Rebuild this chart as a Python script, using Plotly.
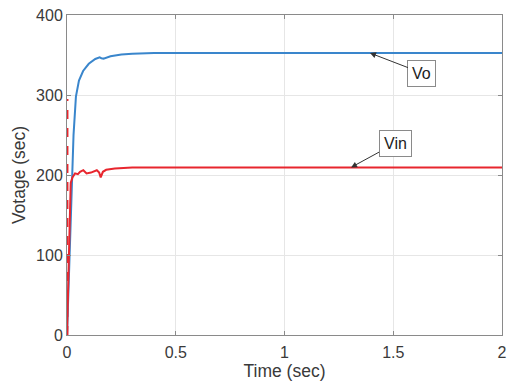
import plotly.graph_objects as go

# Output voltage Vo (blue)
vo_t = [0, 0.005, 0.012, 0.02, 0.03, 0.041, 0.055, 0.074, 0.1, 0.13, 0.15, 0.158, 0.168, 0.2, 0.25, 0.3, 0.4, 2.0]
vo_v = [0, 40, 120, 185, 250, 298, 318, 330, 339, 345, 347, 346, 345.5, 348.5, 350.5, 351.5, 352.5, 352.5]

# Input voltage Vin (red)
vin_t = [0, 0.004, 0.01, 0.017, 0.025, 0.037, 0.05, 0.06, 0.075, 0.09, 0.11, 0.137, 0.148, 0.155, 0.165, 0.18, 0.22, 0.3, 2.0]
vin_v = [0, 40, 130, 190, 197, 202, 201, 204, 206, 202, 203, 206, 203, 197, 204, 206.5, 208, 209.5, 209.5]

# Initial start-up spike of Vin at t = 0
spike_t = [0.002, 0.002]
spike_v = [0, 295]

x_ticks = [0, 0.5, 1, 1.5, 2]
x_tick_labels = ["0", "0.5", "1", "1.5", "2"]
y_ticks = [0, 100, 200, 300, 400]
y_tick_labels = ["0", "100", "200", "300", "400"]

BLUE = "#3A86CC"
RED = "#E8262E"
FONT = "Liberation Sans, Arial, sans-serif"

fig = go.Figure()
fig.add_trace(go.Scatter(x=spike_t, y=spike_v, mode="lines",
                         line=dict(color=RED, width=2, dash="dash"), showlegend=False))
fig.add_trace(go.Scatter(x=vo_t, y=vo_v, mode="lines",
                         line=dict(color=BLUE, width=2), showlegend=False))
fig.add_trace(go.Scatter(x=vin_t, y=vin_v, mode="lines",
                         line=dict(color=RED, width=2), showlegend=False))

axis_common = dict(
    showline=True, linecolor="#8a8a8a", linewidth=1, mirror="ticks",
    ticks="inside", ticklen=4, tickcolor="#8a8a8a",
    showgrid=True, gridcolor="#e6e6e6", gridwidth=1, zeroline=False,
    tickfont=dict(family=FONT, size=16, color="#3a3a3a"),
    automargin=False, ticklabeloverflow="allow",
)

fig.update_xaxes(range=[0, 2], tickvals=x_ticks, ticktext=x_tick_labels,
                 ticklabelstandoff=3,
                 title=dict(text="Time (sec)", font=dict(family=FONT, size=17.5, color="#3a3a3a"), standoff=4),
                 **axis_common)
fig.update_yaxes(range=[0, 400], tickvals=y_ticks, ticktext=y_tick_labels,
                 title=dict(text="Votage (sec)", font=dict(family=FONT, size=17.5, color="#3a3a3a"), standoff=5),
                 **axis_common)

ann_common = dict(
    showarrow=True, arrowhead=2, arrowsize=1.2, arrowwidth=1, arrowcolor="#333333",
    bordercolor="#8a8a8a", borderwidth=1, borderpad=4, bgcolor="white",
    font=dict(family=FONT, size=16, color="#222222"),
)
fig.add_annotation(x=1.393, y=352.5, text="Vo", ax=52, ay=20, **ann_common)
fig.add_annotation(x=1.306, y=209.5, text="Vin", ax=44, ay=-24, **ann_common)

fig.update_layout(
    width=507, height=389,
    margin=dict(l=67, r=5, t=15, b=54),
    paper_bgcolor="white", plot_bgcolor="white",
    showlegend=False,
)

# Remove the default 8px page margin so the figure fills the window exactly.
fig.write_html("out.html",
               config={"displayModeBar": False},
               post_script="document.body.style.margin='0';document.body.style.overflow='hidden';")
